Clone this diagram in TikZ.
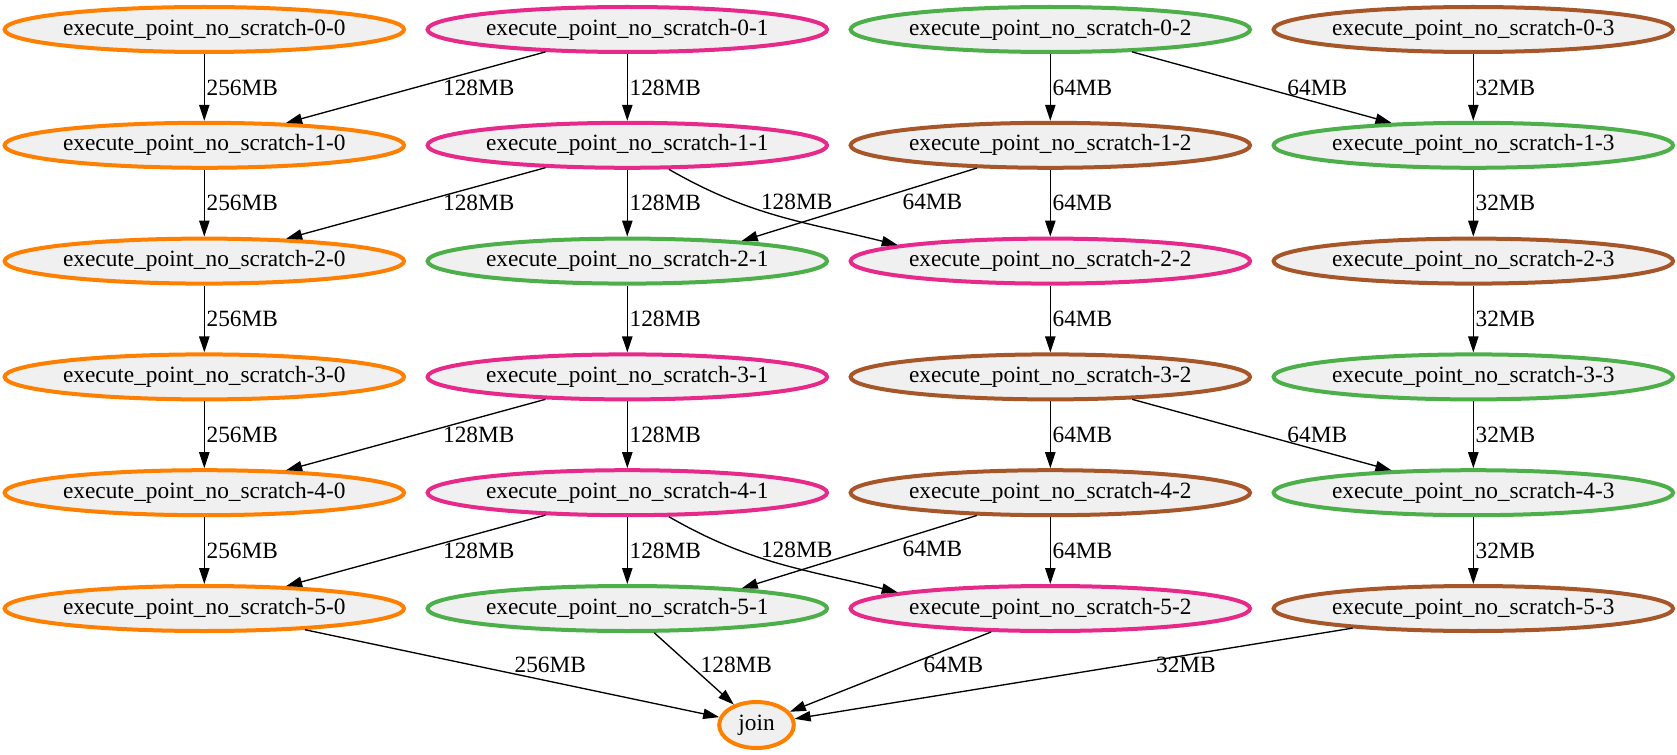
\documentclass[tikz,border=0pt]{standalone}
\usepackage{fontspec}
\setmainfont{Liberation Serif}
\usetikzlibrary{shapes.geometric,arrows.meta}

\definecolor{cOrange}{HTML}{FF7F00}
\definecolor{cPink}{HTML}{E7298A}
\definecolor{cGreen}{HTML}{4DAF4A}
\definecolor{cBrown}{HTML}{A65628}
\definecolor{nodefill}{HTML}{F0F0F0}

\tikzset{
	job/.style={ellipse, line width=2.4pt, fill=nodefill, minimum width=237.6pt,
	minimum height=27pt, inner sep=0pt, font=\fontsize{14}{17}\selectfont},
	flow/.style={-{Triangle[length=9.6pt, width=6.2pt]}, line width=0.8pt},
	lbl/.style={anchor=west, inner sep=1pt, font=\fontsize{14}{17}\selectfont}
}

\begin{document}
\begin{tikzpicture}[x=0.6pt, y=-0.6pt]
	\useasboundingbox (0, 0) rectangle (1677, 755);
	% Knoten, Zeile fuer Zeile
	\foreach \r/\colA/\colB/\colC/\colD in {0/cOrange/cPink/cGreen/cBrown,
		1/cOrange/cPink/cBrown/cGreen, 2/cOrange/cGreen/cPink/cBrown,
		3/cOrange/cPink/cBrown/cGreen, 4/cOrange/cPink/cBrown/cGreen,
		5/cOrange/cGreen/cPink/cBrown} {
		\pgfmathsetmacro{\ypos}{29.5 + 115.8*\r}
		\node[job, draw=\colA] (n\r0) at (204.3, \ypos) {execute\_point\_no\_scratch-\r-0};
		\node[job, draw=\colB] (n\r1) at (627.3, \ypos) {execute\_point\_no\_scratch-\r-1};
		\node[job, draw=\colC] (n\r2) at (1050.3, \ypos) {execute\_point\_no\_scratch-\r-2};
		\node[job, draw=\colD] (n\r3) at (1473.3, \ypos) {execute\_point\_no\_scratch-\r-3};
	}
	\node[job, draw=cOrange, minimum width=44.8pt, minimum height=27.6pt] (join)
	at (756.5, 725) {join};
	% Kanten 0 -> 1
	\draw[flow] (n00) -- node[lbl] {256MB} (n10);
	\draw[flow] (n01) -- node[lbl, xshift=15pt] {128MB} (n10);
	\draw[flow] (n01) -- node[lbl] {128MB} (n11);
	\draw[flow] (n02) -- node[lbl] {64MB} (n12);
	\draw[flow] (n02) -- node[lbl, xshift=14pt] {64MB} (n13);
	\draw[flow] (n03) -- node[lbl] {32MB} (n13);
	% Kanten 1 -> 2
	\draw[flow] (n10) -- node[lbl] {256MB} (n20);
	\draw[flow] (n11) -- node[lbl, xshift=15pt] {128MB} (n20);
	\draw[flow] (n11) -- node[lbl] {128MB} (n21);
	\draw[flow] (n11) to[out=-30, in=166] node[lbl, pos=0.3, xshift=13pt] {128MB} (n22.174);
	\draw[flow] (n12) -- node[lbl, pos=0.46, xshift=19pt] {64MB} (n21.10);
	\draw[flow] (n12) -- node[lbl] {64MB} (n22);
	\draw[flow] (n13) -- node[lbl] {32MB} (n23);
	% Kanten 2 -> 3
	\draw[flow] (n20) -- node[lbl] {256MB} (n30);
	\draw[flow] (n21) -- node[lbl] {128MB} (n31);
	\draw[flow] (n22) -- node[lbl] {64MB} (n32);
	\draw[flow] (n23) -- node[lbl] {32MB} (n33);
	% Kanten 3 -> 4
	\draw[flow] (n30) -- node[lbl] {256MB} (n40);
	\draw[flow] (n31) -- node[lbl, xshift=15pt] {128MB} (n40);
	\draw[flow] (n31) -- node[lbl] {128MB} (n41);
	\draw[flow] (n32) -- node[lbl] {64MB} (n42);
	\draw[flow] (n32) -- node[lbl, xshift=14pt] {64MB} (n43);
	\draw[flow] (n33) -- node[lbl] {32MB} (n43);
	% Kanten 4 -> 5
	\draw[flow] (n40) -- node[lbl] {256MB} (n50);
	\draw[flow] (n41) -- node[lbl, xshift=15pt] {128MB} (n50);
	\draw[flow] (n41) -- node[lbl] {128MB} (n51);
	\draw[flow] (n41) to[out=-30, in=166] node[lbl, pos=0.3, xshift=13pt] {128MB} (n52.174);
	\draw[flow] (n42) -- node[lbl, pos=0.46, xshift=19pt] {64MB} (n51.10);
	\draw[flow] (n42) -- node[lbl] {64MB} (n52);
	\draw[flow] (n43) -- node[lbl] {32MB} (n53);
	% Kanten zu join
	\draw[flow] (n50) -- node[lbl, pos=0.4, xshift=25pt] {256MB} (join);
	\draw[flow] (n51) -- node[lbl, pos=0.45, xshift=5pt] {128MB} (join);
	\draw[flow] (n52) -- node[lbl, pos=0.41, xshift=7.5pt] {64MB} (join);
	\draw[flow] (n53) -- node[lbl, pos=0.41, xshift=18pt] {32MB} (join);
\end{tikzpicture}
\end{document}
